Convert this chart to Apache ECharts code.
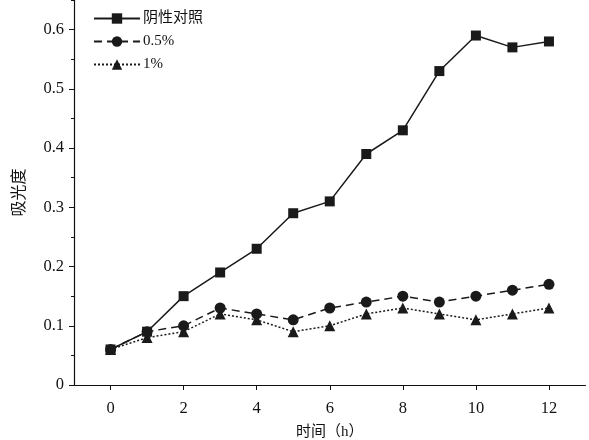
<!DOCTYPE html>
<html><head><meta charset="utf-8">
<script src="https://cdn.jsdelivr.net/npm/echarts@6/dist/echarts.min.js"></script>
<style>html,body{margin:0;padding:0;background:#fff}#c{width:589px;height:440px}</style>
</head><body><div id="c"></div>
<script>
var hours = [0,1,2,3,4,5,6,7,8,9,10,11,12];
var seriesNames = ['阴性对照','0.5%','1%'];
var control = [0.06,0.09,0.15,0.19,0.23,0.29,0.31,0.39,0.43,0.53,0.59,0.57,0.58];
var p05 = [0.06,0.09,0.10,0.13,0.12,0.11,0.13,0.14,0.15,0.14,0.15,0.16,0.17];
var p1 = [0.06,0.08,0.09,0.12,0.11,0.09,0.10,0.12,0.13,0.12,0.11,0.12,0.13];
var xTicks = [0,2,4,6,8,10,12];
var yTicks = [0,0.1,0.2,0.3,0.4,0.5,0.6];

var FONT = '"Liberation Serif","Noto Sans CJK SC",serif';
function pairs(v){return hours.map(function(h,i){return [h,v[i]];});}
var chart = echarts.init(document.getElementById('c'));
chart.setOption({
  animation:false,
  backgroundColor:'#fff',
  grid:{left:74,right:3.5,top:0,bottom:55,outerBoundsMode:'none',containLabel:false},
  legend:{
    left:88, top:6, orient:'vertical', itemGap:8, itemWidth:46, itemHeight:13,
    textStyle:{fontFamily:FONT,fontSize:15,color:'#111',padding:[0,0,0,-2]},
    data:seriesNames
  },
  xAxis:{
    type:'value', min:-1, max:13, interval:1,
    name:'时间（h）', nameLocation:'middle', nameGap:40,
    nameTextStyle:{fontFamily:FONT,fontSize:15,color:'#111'},
    axisLine:{onZero:false,lineStyle:{color:'#111',width:1.2}},
    axisTick:{show:true,length:5,lineStyle:{color:'#111'},customValues:xTicks},
    axisLabel:{fontFamily:FONT,fontSize:16.5,color:'#111',margin:15,customValues:xTicks},
    splitLine:{show:false}
  },
  yAxis:{
    type:'value', min:0, max:0.65, interval:0.1,
    name:'吸光度', nameLocation:'middle', nameGap:46, nameRotate:90,
    nameTextStyle:{fontFamily:FONT,fontSize:16,color:'#111'},
    axisLine:{show:true,onZero:false,lineStyle:{color:'#111',width:1.2}},
    axisTick:{show:true,length:5,lineStyle:{color:'#111'},customValues:yTicks},
    minorTick:{show:true,splitNumber:2,length:3,lineStyle:{color:'#111'}},
    axisLabel:{fontFamily:FONT,fontSize:16.5,color:'#111',margin:10,customValues:yTicks,
      formatter:function(v){return String(Math.round(v*10)/10);}},
    splitLine:{show:false}
  },
  series:[
    {name:seriesNames[0],type:'line',data:pairs(control),symbol:'rect',symbolSize:10,
     lineStyle:{color:'#1a1a1a',width:1.5,type:'solid'},itemStyle:{color:'#1a1a1a'}},
    {name:seriesNames[1],type:'line',data:pairs(p05),symbol:'circle',symbolSize:11,
     lineStyle:{color:'#1a1a1a',width:1.5,type:[8,5]},itemStyle:{color:'#1a1a1a'}},
    {name:seriesNames[2],type:'line',data:pairs(p1),symbol:'triangle',symbolSize:11,
     lineStyle:{color:'#1a1a1a',width:1.5,type:[2,2]},itemStyle:{color:'#1a1a1a'}}
  ]
});
</script></body></html>
